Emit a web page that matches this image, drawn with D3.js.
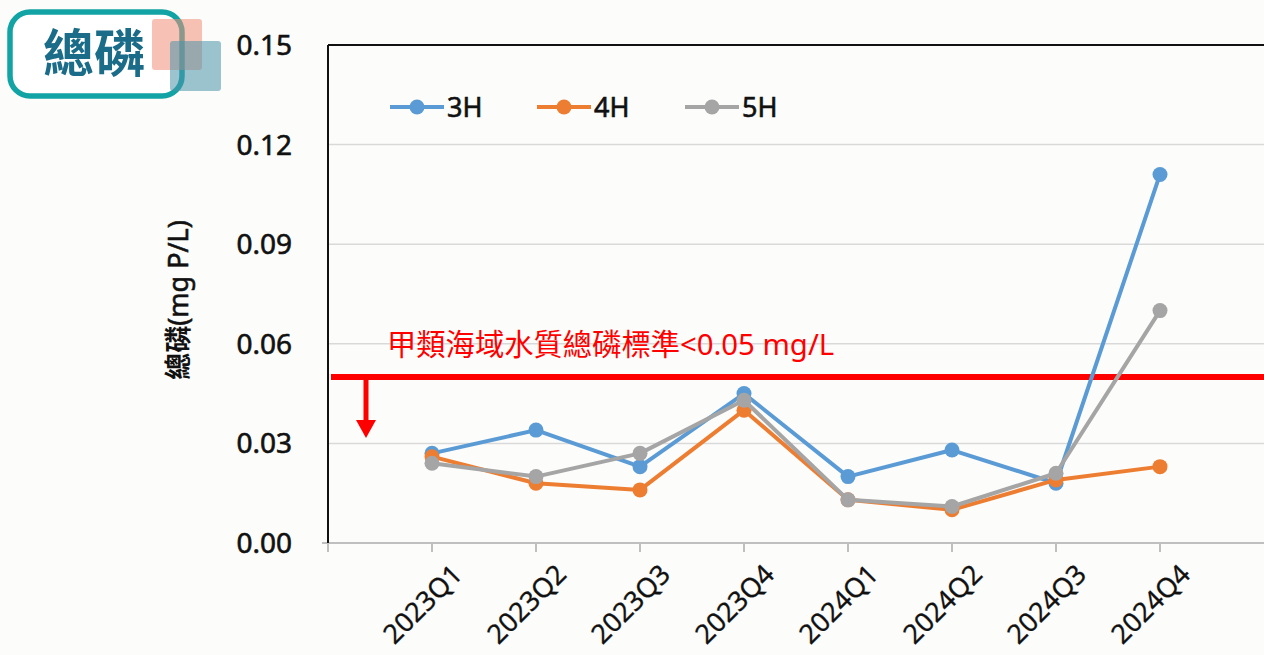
<!DOCTYPE html>
<html>
<head>
<meta charset="utf-8">
<script src="https://cdn.jsdelivr.net/npm/d3@7"></script>
<style>
  html, body { margin: 0; padding: 0; background: #fcfcfa; }
  svg { display: block; font-family: "Noto Sans", "Noto Sans CJK TC", sans-serif; }
</style>
</head>
<body>
<svg id="chart" width="1264" height="655"></svg>
<script>
// quarters on the x axis
var quarters = ['2023Q1', '2023Q2', '2023Q3', '2023Q4', '2024Q1', '2024Q2', '2024Q3', '2024Q4'];

// total phosphorus per station (mg P/L)
var values3H = [0.027, 0.034, 0.023, 0.045, 0.020, 0.028, 0.018, 0.111];
var values4H = [0.026, 0.018, 0.016, 0.040, 0.013, 0.010, 0.019, 0.023];
var values5H = [0.024, 0.020, 0.027, 0.043, 0.013, 0.011, 0.021, 0.070];

var seriesNames = ['3H', '4H', '5H'];
var seriesColors = ['#5b9bd5', '#ed7d31', '#a5a5a5'];

var yTicks = [0, 0.03, 0.06, 0.09, 0.12, 0.15];
var standardValue = 0.05;
var standardLabel = '甲類海域水質總磷標準<0.05 mg/L';

var svg = d3.select('#chart');

var plot = { left: 328, right: 1264, top: 45, bottom: 543 };

var x = d3.scalePoint()
  .domain(quarters)
  .range([plot.left, plot.right])
  .padding(1);

var y = d3.scaleLinear()
  .domain([0, 0.15])
  .range([plot.bottom, plot.top]);

// title badge in the corner
var badge = svg.append('g').classed('badge', true);
badge.append('rect')
  .attr('x', 10).attr('y', 12)
  .attr('width', 172).attr('height', 84)
  .attr('rx', 20)
  .attr('fill', '#ffffff')
  .attr('stroke', '#12a3a4')
  .attr('stroke-width', 5.5);
badge.append('text')
  .attr('x', 94).attr('y', 72)
  .attr('text-anchor', 'middle')
  .attr('font-size', 51)
  .attr('font-weight', 'bold')
  .attr('font-family', '"Noto Sans CJK TC", sans-serif')
  .attr('fill', '#1a6c88')
  .text('總磷');
badge.append('rect')
  .attr('x', 152).attr('y', 19)
  .attr('width', 50).attr('height', 51)
  .attr('rx', 3)
  .attr('fill', '#f08f78')
  .attr('opacity', 0.55);
badge.append('rect')
  .attr('x', 170).attr('y', 41)
  .attr('width', 51).attr('height', 50)
  .attr('rx', 3)
  .attr('fill', '#4b93a8')
  .attr('opacity', 0.55);

// gridlines
svg.append('g')
  .selectAll('line')
  .data(yTicks.filter(function (d) { return d > 0 && d < 0.15; }))
  .enter()
  .append('line')
  .attr('x1', plot.left).attr('x2', plot.right)
  .attr('y1', function (d) { return y(d); })
  .attr('y2', function (d) { return y(d); })
  .attr('stroke', '#d9d9d9')
  .attr('stroke-width', 1.5);

// y tick labels
svg.append('g')
  .selectAll('text')
  .data(yTicks)
  .enter()
  .append('text')
  .attr('x', 292)
  .attr('y', function (d) { return y(d); })
  .attr('dy', '0.36em')
  .attr('text-anchor', 'end')
  .attr('font-size', 28)
  .attr('fill', '#111')
  .attr('stroke', '#111')
  .attr('stroke-width', 0.6)
  .text(function (d) { return d3.format('.2f')(d); });

// y axis title
svg.append('text')
  .attr('transform', 'translate(188,300) rotate(-90)')
  .attr('text-anchor', 'middle')
  .attr('font-size', 27)
  .attr('fill', '#111')
  .call(function (t) {
    t.append('tspan').attr('font-weight', 'bold')
      .attr('font-family', '"Noto Sans CJK TC", sans-serif').text('總磷');
    t.append('tspan').attr('stroke', '#111').attr('stroke-width', 0.6).text('(mg P/L)');
  });

// x axis line and ticks
var xAxis = svg.append('g');
xAxis.append('line')
  .attr('x1', plot.left - 6).attr('x2', plot.right)
  .attr('y1', plot.bottom).attr('y2', plot.bottom)
  .attr('stroke', '#bfbfbf')
  .attr('stroke-width', 2);
xAxis.selectAll('.tick')
  .data([null].concat(quarters))
  .enter()
  .append('line')
  .attr('x1', function (d) { return d === null ? plot.left : x(d); })
  .attr('x2', function (d) { return d === null ? plot.left : x(d); })
  .attr('y1', plot.bottom)
  .attr('y2', plot.bottom + 9)
  .attr('stroke', '#bfbfbf')
  .attr('stroke-width', 2);
xAxis.selectAll('text')
  .data(quarters)
  .enter()
  .append('text')
  .attr('transform', function (d) {
    return 'translate(' + (x(d) + 32) + ',576) rotate(-45)';
  })
  .attr('text-anchor', 'end')
  .attr('font-size', 27)
  .attr('fill', '#111')
  .attr('stroke', '#111')
  .attr('stroke-width', 0.3)
  .text(function (d) { return d; });

// frame: left and top edges
svg.append('line')
  .attr('x1', plot.left).attr('x2', plot.left)
  .attr('y1', plot.top).attr('y2', plot.bottom)
  .attr('stroke', '#111').attr('stroke-width', 2);
svg.append('line')
  .attr('x1', plot.left).attr('x2', plot.right)
  .attr('y1', plot.top).attr('y2', plot.top)
  .attr('stroke', '#111').attr('stroke-width', 2);

// standard line, label and arrow
svg.append('line')
  .attr('x1', plot.left + 3).attr('x2', plot.right)
  .attr('y1', y(standardValue)).attr('y2', y(standardValue))
  .attr('stroke', '#ff0000')
  .attr('stroke-width', 6);
svg.append('text')
  .attr('x', 387).attr('y', y(standardValue) - 22)
  .attr('font-size', 29.3)
  .attr('fill', '#ff0000')
  .text(standardLabel);
svg.append('line')
  .attr('x1', 366).attr('x2', 366)
  .attr('y1', y(standardValue)).attr('y2', 422)
  .attr('stroke', '#ff0000')
  .attr('stroke-width', 5);
svg.append('path')
  .attr('d', 'M356,420 L376,420 L366,438 Z')
  .attr('fill', '#ff0000');

// series lines with markers
var allSeries = [values3H, values4H, values5H];
var line = d3.line()
  .x(function (d, i) { return x(quarters[i]); })
  .y(function (d) { return y(d); });

allSeries.forEach(function (vals, s) {
  var g = svg.append('g').attr('class', 'series-' + seriesNames[s]);
  g.append('path')
    .datum(vals)
    .attr('d', line)
    .attr('fill', 'none')
    .attr('stroke', seriesColors[s])
    .attr('stroke-width', 4)
    .attr('stroke-linejoin', 'round');
  g.selectAll('circle')
    .data(vals)
    .enter()
    .append('circle')
    .attr('cx', function (d, i) { return x(quarters[i]); })
    .attr('cy', function (d) { return y(d); })
    .attr('r', 7.5)
    .attr('fill', seriesColors[s]);
});

// legend
var legendX = [390, 537, 685];
var legend = svg.append('g');
seriesNames.forEach(function (name, s) {
  var lx = legendX[s];
  legend.append('line')
    .attr('x1', lx).attr('x2', lx + 54)
    .attr('y1', 107).attr('y2', 107)
    .attr('stroke', seriesColors[s])
    .attr('stroke-width', 4);
  legend.append('circle')
    .attr('cx', lx + 27).attr('cy', 107)
    .attr('r', 7.5)
    .attr('fill', seriesColors[s]);
  legend.append('text')
    .attr('x', lx + 57).attr('y', 117)
    .attr('font-size', 27)
    .attr('fill', '#111')
    .attr('stroke', '#111')
    .attr('stroke-width', 0.6)
    .text(name);
});
</script>
</body>
</html>
